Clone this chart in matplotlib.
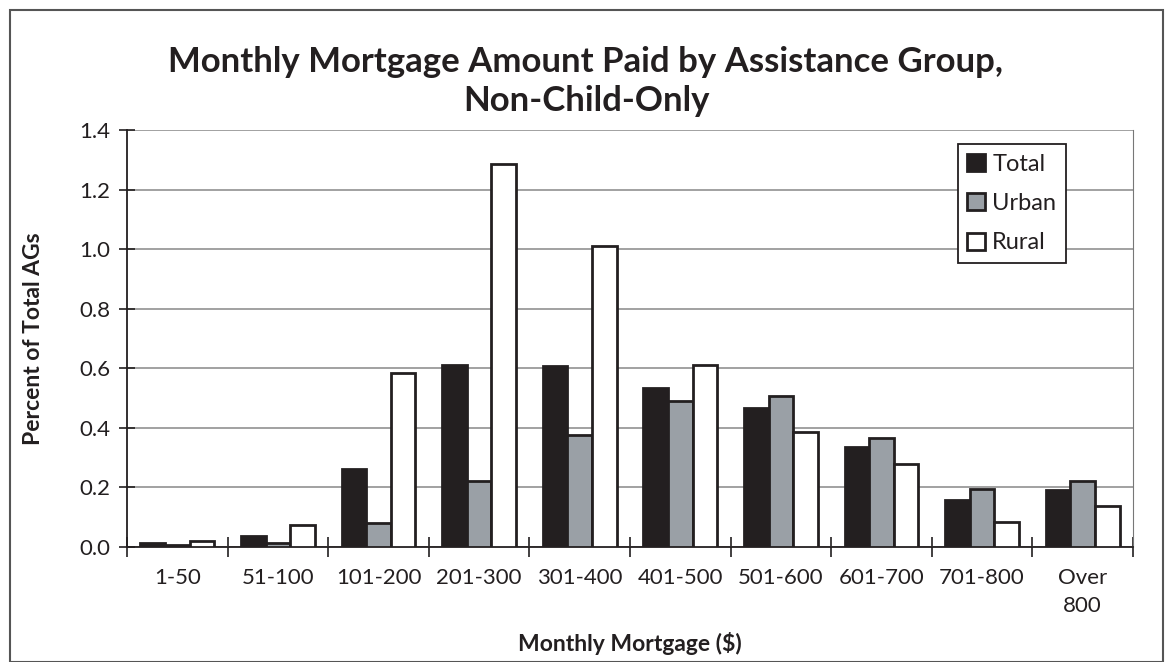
import numpy as np
import matplotlib
matplotlib.use("Agg")
import matplotlib.pyplot as plt
from matplotlib.patches import Rectangle

plt.rcParams['font.family'] = ['Lato', 'DejaVu Sans']

### Data ###
categories = ["1-50", "51-100", "101-200", "201-300", "301-400",
              "401-500", "501-600", "601-700", "701-800", "Over\n800"]
total = [0.013, 0.037, 0.262, 0.610, 0.608, 0.535, 0.465, 0.336, 0.157, 0.193]
urban = [0.007, 0.013, 0.080, 0.222, 0.377, 0.490, 0.507, 0.367, 0.195, 0.222]
rural = [0.020, 0.074, 0.584, 1.285, 1.010, 0.610, 0.386, 0.277, 0.084, 0.136]

series = {"Total": total, "Urban": urban, "Rural": rural}
colors = {"Total": "#231f20", "Urban": "#9aa0a6", "Rural": "#ffffff"}

fig = plt.figure(figsize=(11.73, 6.62), dpi=100)
ax = fig.add_axes([127/1173, 1-547/662, (1133-127)/1173, (547-130)/662])

x = np.arange(len(categories))
w = 0.245
for k, (name, vals) in enumerate(series.items()):
    ax.bar(x + (k-1)*w, vals, width=w, color=colors[name], edgecolor="#231f20",
           linewidth=2, label=name, zorder=3)

ax.set_xlim(-0.5, len(categories)-0.5)
ax.set_ylim(0, 1.4)
yt = np.arange(0, 1.41, 0.2)
ax.set_yticks(yt)
ax.set_yticklabels([f"{v:.1f}" for v in yt], fontsize=16, color="#231f20")
ax.yaxis.grid(True, color="#9a9a9a", linewidth=1.3, zorder=0)

# category labels sit between the boundary ticks
ax.set_xticks(np.arange(-0.5, len(categories), 1.0))
ax.set_xticklabels([])
ax.set_xticks(x, minor=True)
ax.set_xticklabels(categories, minor=True, fontsize=16, linespacing=1.5, va="top", color="#231f20")
ax.tick_params(axis="x", which="minor", length=0, pad=15)
ax.tick_params(axis="x", which="major", direction="inout", length=14, width=1.2, color="#231f20")
ax.tick_params(axis="y", direction="inout", length=12, width=1.2, color="#231f20", pad=6)

ax.spines["top"].set_visible(False)
ax.spines["right"].set_color("#777777")
ax.spines["left"].set_color("#231f20")
ax.spines["bottom"].set_color("#231f20")
ax.spines["left"].set_linewidth(1.3)
ax.spines["bottom"].set_linewidth(1.3)

ax.set_ylabel("Percent of Total AGs", fontsize=16.5, fontweight="bold", color="#231f20")
ax.yaxis.set_label_coords((44-127)/1006, 0.5)
ax.set_xlabel("Monthly Mortgage ($)", fontsize=16.5, fontweight="bold", color="#231f20")
ax.xaxis.set_label_coords(0.5, -0.205)

fig.text(586/1173, 1-62/662, "Monthly Mortgage Amount Paid by Assistance Group,",
         ha="center", va="center", fontsize=25, fontweight="bold", color="#231f20")
fig.text(586/1173, 1-101/662, "Non-Child-Only",
         ha="center", va="center", fontsize=25, fontweight="bold", color="#231f20")

leg = ax.legend(loc="upper right", bbox_to_anchor=(0.933, 0.966), fontsize=17,
                frameon=True, fancybox=False, edgecolor="#231f20", framealpha=1,
                handlelength=0.75, handleheight=0.75, handletextpad=0.3,
                labelspacing=0.78, borderpad=0.4, borderaxespad=0)
leg.get_frame().set_linewidth(1.3)
for t in leg.get_texts():
    t.set_color("#231f20")

fig.patches.append(Rectangle((10/1173, 0), 1-20/1173, 1-10/662, transform=fig.transFigure,
                             fill=False, edgecolor="#555555", linewidth=1.5))

fig.savefig("out.png", dpi=100)
